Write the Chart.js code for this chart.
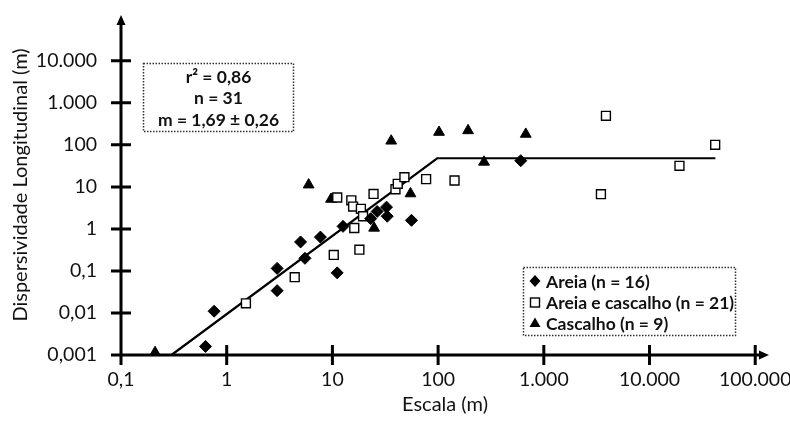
<!DOCTYPE html>
<html>
<head>
<meta charset="utf-8">
<script src="https://cdn.jsdelivr.net/npm/chart.js@4.4.0/dist/chart.umd.min.js"></script>
<style>
    body { margin: 0; background: #fff; }
    #wrap { width: 790px; height: 425px; }
</style>
</head>
<body>
<div id="wrap"><canvas id="chart" width="790" height="425"></canvas></div>
<script>
// series (escala x, dispersividade y)
const areiaX = [0.63, 0.76, 3.0, 3.0, 5.0, 5.5, 7.7, 11.1, 12.6, 23, 26.5, 32.5, 33, 56, 605];
const areiaY = [0.0016, 0.011, 0.034, 0.115, 0.49, 0.2, 0.64, 0.09, 1.15, 1.75, 2.6, 3.3, 2.0, 1.6, 42];

const areiaCascX = [1.52, 4.4, 10.3, 11.1, 15.1, 15.7, 16.1, 18, 18.6, 19.5, 24.5, 39.5, 41.5, 48, 77, 143, 3470, 3870, 19200, 41800];
const areiaCascY = [0.017, 0.071, 0.24, 5.6, 4.8, 3.4, 1.05, 0.32, 3.0, 2.0, 6.8, 8.8, 11.8, 17, 15.3, 14.2, 6.7, 490, 31.7, 100];

const cascalhoX = [0.21, 5.96, 9.7, 24.8, 54.8, 36, 102, 192, 272, 675];
const cascalhoY = [0.00115, 11.2, 5.1, 1.05, 6.9, 124, 200, 219, 39, 180];

const ajusteX = [0.3, 98, 42000];
const ajusteY = [0.001, 48, 48];

const seriesNames = ['Areia (n = 16)', 'Areia e cascalho (n = 21)', 'Cascalho (n = 9)'];
const statLines = ['r\u00b2 = 0,86', 'n = 31', 'm = 1,69 \u00b1 0,26'];

const xTickValues = [0.1, 1, 10, 100, 1000, 10000, 100000];
const xTickLabels = ['0,1', '1', '10', '100', '1.000', '10.000', '100.000'];
const yTickValues = [0.001, 0.01, 0.1, 1, 10, 100, 1000, 10000];
const yTickLabels = ['0,001', '0,01', '0,1', '1', '10', '100', '1.000', '10.000'];

const toPoints = (xs, ys) => xs.map((x, i) => ({ x: x, y: ys[i] }));
const FONT = 'Lato';

// eixos com setas, ticks cruzados, caixas de texto
const decor = {
    id: 'decor',
    beforeDatasetsDraw(chart) {
        const ctx = chart.ctx;
        const xs = chart.scales.x, ys = chart.scales.y;
        const x0 = xs.left, y0 = ys.bottom;
        const xEnd = xs.right, yEnd = ys.top;
        ctx.save();
        ctx.strokeStyle = '#000';
        ctx.fillStyle = '#000';
        ctx.lineWidth = 3;
        ctx.lineCap = 'butt';
        ctx.beginPath();
        ctx.moveTo(x0, y0 + 3); ctx.lineTo(x0, yEnd + 4);
        ctx.moveTo(x0 - 3, y0); ctx.lineTo(xEnd - 4, y0);
        yTickValues.forEach(v => {
            const py = ys.getPixelForValue(v);
            ctx.moveTo(x0 - 10, py); ctx.lineTo(x0 + 10, py);
        });
        xTickValues.forEach(v => {
            const px = xs.getPixelForValue(v);
            ctx.moveTo(px, y0 - 10); ctx.lineTo(px, y0 + 10);
        });
        ctx.stroke();
        // setas
        ctx.beginPath();
        ctx.moveTo(x0, yEnd); ctx.lineTo(x0 - 4.5, yEnd + 10); ctx.lineTo(x0 + 4.5, yEnd + 10);
        ctx.closePath(); ctx.fill();
        ctx.beginPath();
        ctx.moveTo(xEnd, y0); ctx.lineTo(xEnd - 10, y0 - 4.5); ctx.lineTo(xEnd - 10, y0 + 4.5);
        ctx.closePath(); ctx.fill();
        ctx.restore();
    },
    afterDraw(chart) {
        const ctx = chart.ctx;
        ctx.save();
        ctx.strokeStyle = '#333';
        ctx.lineWidth = 1.5;
        ctx.setLineDash([1.5, 1.5]);
        ctx.strokeRect(143.5, 63.5, 150, 68);
        ctx.strokeRect(523.5, 267.5, 212, 68);
        ctx.setLineDash([]);

        ctx.fillStyle = '#111';
        ctx.font = 'bold 17.5px ' + FONT;
        ctx.textAlign = 'center';
        ctx.textBaseline = 'middle';
        statLines.forEach((t, i) => ctx.fillText(t, 218.5, 77 + i * 21.5));

        ctx.textAlign = 'left';
        const ly = [281, 302, 323];
        seriesNames.forEach((t, i) => ctx.fillText(t, 546, ly[i] + 1));

        // simbolos da legenda
        const cx = 535;
        ctx.fillStyle = '#000';
        ctx.beginPath();
        ctx.moveTo(cx, ly[0] - 6); ctx.lineTo(cx + 5.5, ly[0]); ctx.lineTo(cx, ly[0] + 6); ctx.lineTo(cx - 5.5, ly[0]);
        ctx.closePath(); ctx.fill();
        ctx.strokeStyle = '#000';
        ctx.lineWidth = 1.4;
        ctx.strokeRect(cx - 4.5, ly[1] - 4, 9, 9);
        ctx.beginPath();
        ctx.moveTo(cx, ly[2] - 5.5); ctx.lineTo(cx + 5.5, ly[2] + 4); ctx.lineTo(cx - 5.5, ly[2] + 4);
        ctx.closePath(); ctx.fill();
        ctx.restore();
    }
};

new Chart(document.getElementById('chart'), {
    type: 'scatter',
    data: {
        datasets: [{
            label: seriesNames[0],
            data: toPoints(areiaX, areiaY),
            pointStyle: 'rectRot',
            pointRadius: 6,
            backgroundColor: '#000',
            borderColor: '#000',
            borderWidth: 1,
            clip: false
        }, {
            label: seriesNames[1],
            data: toPoints(areiaCascX, areiaCascY),
            pointStyle: 'rect',
            pointRadius: 6.3,
            backgroundColor: '#fff',
            borderColor: '#000',
            borderWidth: 1.4,
            clip: false
        }, {
            label: seriesNames[2],
            data: toPoints(cascalhoX, cascalhoY),
            pointStyle: 'triangle',
            pointRadius: 6.2,
            backgroundColor: '#000',
            borderColor: '#000',
            borderWidth: 1,
            clip: false
        }, {
            label: 'ajuste',
            data: toPoints(ajusteX, ajusteY),
            showLine: true,
            borderColor: '#000',
            borderWidth: 2.2,
            pointRadius: 0,
            tension: 0,
            clip: false
        }]
    },
    options: {
        responsive: false,
        animation: false,
        events: [],
        layout: { padding: { top: 15, right: 21, left: 0, bottom: 0 } },
        plugins: {
            legend: { display: false },
            tooltip: { enabled: false }
        },
        scales: {
            x: {
                type: 'logarithmic',
                min: 0.1,
                max: 135000,
                grid: { display: false, drawTicks: false },
                border: { display: false },
                afterFit: s => { s.height = 70; s.paddingLeft = 0; s.paddingRight = 0; },
                afterBuildTicks: s => { s.ticks = xTickValues.map(v => ({ value: v })); },
                ticks: {
                    autoSkip: false,
                    maxRotation: 0,
                    padding: 13,
                    color: '#111',
                    font: { family: FONT, size: 19.5 },
                    callback: (v, i) => xTickLabels[i]
                },
                title: {
                    display: true,
                    text: 'Escala (m)',
                    color: '#111',
                    font: { family: FONT, size: 20 },
                    padding: { top: 0, bottom: 8 }
                }
            },
            y: {
                type: 'logarithmic',
                min: 0.001,
                max: 123000,
                grid: { display: false, drawTicks: false },
                border: { display: false },
                afterFit: s => { s.width = 121; s.paddingTop = 0; s.paddingBottom = 0; },
                afterBuildTicks: s => { s.ticks = yTickValues.map(v => ({ value: v })); },
                ticks: {
                    autoSkip: false,
                    padding: 24,
                    color: '#111',
                    font: { family: FONT, size: 19.5 },
                    callback: (v, i) => yTickLabels[i]
                },
                title: {
                    display: true,
                    text: 'Dispersividade Longitudinal (m)',
                    color: '#111',
                    font: { family: FONT, size: 20 },
                    padding: { top: 9, bottom: 0 }
                }
            }
        }
    },
    plugins: [decor]
});
</script>
</body>
</html>
